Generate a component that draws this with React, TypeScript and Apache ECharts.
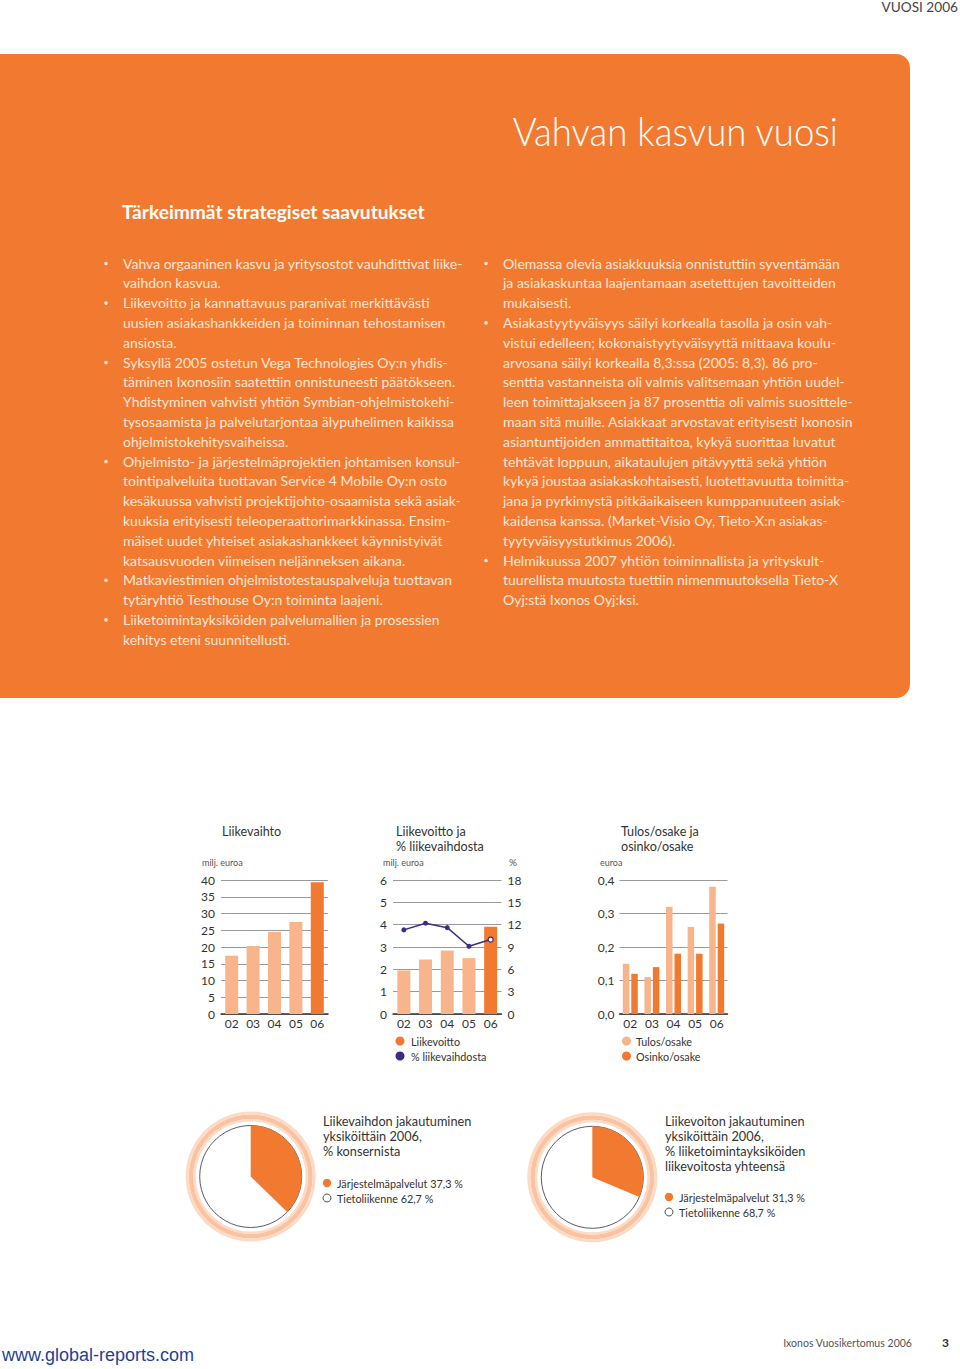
import React, { useEffect, useRef } from "react";
import * as echarts from "echarts";

// ---------- data ----------
const years = ["02", "03", "04", "05", "06"];
const revenue = [17.4, 20.3, 24.5, 27.5, 39.3]; // milj. euroa
const operatingProfit = [1.95, 2.44, 2.84, 2.5, 3.91]; // milj. euroa
const operatingMargin = [11.3, 12.2, 11.6, 9.1, 10.0]; // %
const epsValues = [0.15, 0.11, 0.32, 0.26, 0.38]; // euroa
const dividendValues = [0.12, 0.14, 0.18, 0.18, 0.27]; // euroa
const revenueSplit = [
  { name: "Järjestelmäpalvelut", value: 37.3 },
  { name: "Tietoliikenne", value: 62.7 },
];
const profitSplit = [
  { name: "Järjestelmäpalvelut", value: 31.3 },
  { name: "Tietoliikenne", value: 68.7 },
];

const leftLines: [string, boolean][] = [
  ["Vahva orgaaninen kasvu ja yritysostot vauhdittivat liike-", true],
  ["vaihdon kasvua.", false],
  ["Liikevoitto ja kannattavuus paranivat merkittävästi", true],
  ["uusien asiakashankkeiden ja toiminnan tehostamisen", false],
  ["ansiosta.", false],
  ["Syksyllä 2005 ostetun Vega Technologies Oy:n yhdis-", true],
  ["täminen Ixonosiin saatettiin onnistuneesti päätökseen.", false],
  ["Yhdistyminen vahvisti yhtiön Symbian-ohjelmistokehi-", false],
  ["tysosaamista ja palvelutarjontaa älypuhelimen kaikissa", false],
  ["ohjelmistokehitysvaiheissa.", false],
  ["Ohjelmisto- ja järjestelmäprojektien johtamisen konsul-", true],
  ["tointipalveluita tuottavan Service 4 Mobile Oy:n osto", false],
  ["kesäkuussa vahvisti projektijohto-osaamista sekä asiak-", false],
  ["kuuksia erityisesti teleoperaattorimarkkinassa. Ensim-", false],
  ["mäiset uudet yhteiset asiakashankkeet käynnistyivät", false],
  ["katsausvuoden viimeisen neljänneksen aikana.", false],
  ["Matkaviestimien ohjelmistotestauspalveluja tuottavan", true],
  ["tytäryhtiö Testhouse Oy:n toiminta laajeni.", false],
  ["Liiketoimintayksiköiden palvelumallien ja prosessien", true],
  ["kehitys eteni suunnitellusti.", false],
];

const rightLines: [string, boolean][] = [
  ["Olemassa olevia asiakkuuksia onnistuttiin syventämään", true],
  ["ja asiakaskuntaa laajentamaan asetettujen tavoitteiden", false],
  ["mukaisesti.", false],
  ["Asiakastyytyväisyys säilyi korkealla tasolla ja osin vah-", true],
  ["vistui edelleen; kokonaistyytyväisyyttä mittaava koulu-", false],
  ["arvosana säilyi korkealla 8,3:ssa (2005: 8,3). 86 pro-", false],
  ["senttia vastanneista oli valmis valitsemaan yhtiön uudel-", false],
  ["leen toimittajakseen ja 87 prosenttia oli valmis suosittele-", false],
  ["maan sitä muille. Asiakkaat arvostavat erityisesti Ixonosin", false],
  ["asiantuntijoiden ammattitaitoa, kykyä suorittaa luvatut", false],
  ["tehtävät loppuun, aikataulujen pitävyyttä sekä yhtiön", false],
  ["kykyä joustaa asiakaskohtaisesti, luotettavuutta toimitta-", false],
  ["jana ja pyrkimystä pitkäaikaiseen kumppanuuteen asiak-", false],
  ["kaidensa kanssa. (Market-Visio Oy, Tieto-X:n asiakas-", false],
  ["tyytyväisyystutkimus 2006).", false],
  ["Helmikuussa 2007 yhtiön toiminnallista ja yrityskult-", true],
  ["tuurellista muutosta tuettiin nimenmuutoksella Tieto-X", false],
  ["Oyj:stä Ixonos Oyj:ksi.", false],
];

// ---------- styles ----------
const FONT = "Lato, 'Open Sans', 'Noto Sans', sans-serif";
const ORANGE = "#F27A30";
const PEACH = "#F8B48A";
const PURPLE = "#3F2B80";
const INK = "#333333";
const PANEL_TEXT = "#FDE6D4";

type TOpts = { size?: number; color?: string; weight?: string | number; align?: string; sx?: number; family?: string };
function T(x: number, y: number, text: string, o: TOpts = {}) {
  const font = `${o.weight ?? "normal"} ${o.size ?? 12}px ${o.family ?? FONT}`;
  return {
    type: "text",
    x,
    y,
    scaleX: o.sx ?? 1,
    silent: true,
    z: 10,
    style: {
      text,
      fill: o.color ?? INK,
      font,
      align: o.align ?? "left",
      textAlign: o.align ?? "left",
      verticalAlign: "middle",
      textVerticalAlign: "middle",
    },
  };
}

function bulletBlock(lines: [string, boolean][], bx: number, tx: number, y0: number, dy: number) {
  const els: any[] = [];
  lines.forEach(([t, b], i) => {
    const y = y0 + i * dy;
    if (b) els.push({ type: "circle", shape: { cx: bx, cy: y + 0.5, r: 1.8 }, style: { fill: PANEL_TEXT }, silent: true, z: 10 });
    els.push(T(tx, y, t, { size: 14, color: PANEL_TEXT, sx: 1.0 }));
  });
  return els;
}

function ringSeries(cx: number, cy: number) {
  const rings: [number, number, string][] = [
    [55, 57.5, "#FCDCC7"],
    [57.5, 62, "#F9C2A0"],
    [62, 65, "#FCDAC4"],
  ];
  return rings.map(([r0, r1, c]) => ({
    type: "pie",
    center: [cx, cy],
    radius: [r0, r1],
    silent: true,
    animation: false,
    label: { show: false },
    labelLine: { show: false },
    z: 1,
    data: [{ value: 1, itemStyle: { color: c } }],
  }));
}

function pieSeries(cx: number, cy: number, data: { name: string; value: number }[]) {
  return [
    {
      type: "pie",
      center: [cx, cy],
      radius: [0, 51],
      silent: true,
      label: { show: false },
      labelLine: { show: false },
      z: 2,
      data: [{ value: 1, itemStyle: { color: "#ffffff", borderColor: "#5A5A6E", borderWidth: 1 } }],
    },
    {
      type: "pie",
      center: [cx, cy],
      radius: [0, 51],
      startAngle: 90,
      clockwise: true,
      silent: true,
      label: { show: false },
      labelLine: { show: false },
      z: 3,
      data: data.map((d, i) => ({
        name: d.name,
        value: d.value,
        itemStyle: { color: i === 0 ? ORANGE : "rgba(0,0,0,0)", borderWidth: 0 },
      })),
    },
  ];
}

const axisLabel = (extra: any = {}) => ({ color: INK, fontSize: 12, fontFamily: FONT, ...extra });

function buildOption() {
  const fmtComma = (v: number) => v.toFixed(1).replace(".", ",");
  const graphics: any[] = [
    T(958, 7, "VUOSI 2006", { size: 13, color: "#444", align: "right", sx: 1.05 }),
    { type: "rect", shape: { x: 0, y: 54, width: 910, height: 644, r: [0, 14, 14, 0] }, style: { fill: ORANGE }, silent: true, z: 0 },
    T(838, 130, "Vahvan kasvun vuosi", { size: 40, color: "#ffffff", weight: 300, align: "right", sx: 0.915 }),
    T(122, 212, "Tärkeimmät strategiset saavutukset", { size: 19, color: "#ffffff", weight: "bold", sx: 1.01 }),
    ...bulletBlock(leftLines, 106, 123, 263, 19.8),
    ...bulletBlock(rightLines, 486, 503, 263, 19.8),

    // chart 1 texts
    T(222, 831, "Liikevaihto", { size: 14, sx: 0.9 }),
    T(202, 862, "milj. euroa", { size: 10, color: "#555", sx: 0.9 }),
    // chart 2 texts
    T(396, 831, "Liikevoitto ja", { size: 14, sx: 0.9 }),
    T(396, 846, "% liikevaihdosta", { size: 14, sx: 0.9 }),
    T(383, 862, "milj. euroa", { size: 10, color: "#555", sx: 0.9 }),
    T(509, 862, "%", { size: 10, color: "#555" }),
    { type: "circle", shape: { cx: 400, cy: 1041, r: 4.5 }, style: { fill: ORANGE }, silent: true, z: 10 },
    T(411, 1041, "Liikevoitto", { size: 12, sx: 0.9 }),
    { type: "circle", shape: { cx: 400, cy: 1056, r: 4.5 }, style: { fill: PURPLE }, silent: true, z: 10 },
    T(411, 1056, "% liikevaihdosta", { size: 12, sx: 0.9 }),
    // chart 3 texts
    T(621, 831, "Tulos/osake ja", { size: 14, sx: 0.9 }),
    T(621, 846, "osinko/osake", { size: 14, sx: 0.9 }),
    T(600, 862, "euroa", { size: 10, color: "#555", sx: 0.9 }),
    { type: "circle", shape: { cx: 626.5, cy: 1041, r: 4.5 }, style: { fill: PEACH }, silent: true, z: 10 },
    T(636, 1041, "Tulos/osake", { size: 12, sx: 0.9 }),
    { type: "circle", shape: { cx: 626.5, cy: 1056, r: 4.5 }, style: { fill: ORANGE }, silent: true, z: 10 },
    T(636, 1056, "Osinko/osake", { size: 12, sx: 0.9 }),

    // pie 1 texts
    T(323, 1121, "Liikevaihdon jakautuminen", { size: 14, sx: 0.91 }),
    T(323, 1136, "yksiköittäin 2006,", { size: 14, sx: 0.91 }),
    T(323, 1151, "% konsernista", { size: 14, sx: 0.91 }),
    { type: "circle", shape: { cx: 327, cy: 1183, r: 4.2 }, style: { fill: ORANGE }, silent: true, z: 10 },
    T(337, 1183, `${revenueSplit[0].name} ${fmtComma(revenueSplit[0].value)} %`, { size: 12, sx: 0.9 }),
    { type: "circle", shape: { cx: 327, cy: 1198, r: 4 }, style: { fill: "#fff", stroke: "#555", lineWidth: 1 }, silent: true, z: 10 },
    T(337, 1198, `${revenueSplit[1].name} ${fmtComma(revenueSplit[1].value)} %`, { size: 12, sx: 0.9 }),

    // pie 2 texts
    T(665, 1121, "Liikevoiton jakautuminen", { size: 14, sx: 0.91 }),
    T(665, 1136, "yksiköittäin 2006,", { size: 14, sx: 0.91 }),
    T(665, 1151, "% liiketoimintayksiköiden", { size: 14, sx: 0.91 }),
    T(665, 1166, "liikevoitosta yhteensä", { size: 14, sx: 0.91 }),
    { type: "circle", shape: { cx: 669, cy: 1197, r: 4.2 }, style: { fill: ORANGE }, silent: true, z: 10 },
    T(679, 1197, `${profitSplit[0].name} ${fmtComma(profitSplit[0].value)} %`, { size: 12, sx: 0.9 }),
    { type: "circle", shape: { cx: 669, cy: 1212, r: 4 }, style: { fill: "#fff", stroke: "#555", lineWidth: 1 }, silent: true, z: 10 },
    T(679, 1212, `${profitSplit[1].name} ${fmtComma(profitSplit[1].value)} %`, { size: 12, sx: 0.9 }),

    // footer
    T(2, 1355, "www.global-reports.com", { size: 18, color: "#1F3F97", family: "'Liberation Sans', Arial, sans-serif" }),
    T(912, 1342, "Ixonos Vuosikertomus 2006", { size: 12, color: "#555", align: "right", sx: 0.88 }),
    T(949, 1342, "3", { size: 12, color: "#333", weight: "bold", align: "right" }),
  ];

  const splitLine = { show: true, lineStyle: { color: "#9a9a9a", width: 1 } };
  const xAxisBase = (i: number) => ({
    gridIndex: i,
    type: "category",
    data: years,
    axisTick: { show: false },
    axisLine: { show: true, lineStyle: { color: INK, width: 1.5 } },
    axisLabel: axisLabel({ margin: 3 }),
  });
  const yBase = (i: number, min: number, max: number, interval: number, extra: any = {}) => ({
    gridIndex: i,
    type: "value",
    min,
    max,
    interval,
    axisLine: { show: false },
    axisTick: { show: false },
    splitLine,
    axisLabel: axisLabel({ margin: 6 }),
    ...extra,
  });

  return {
    animation: false,
    backgroundColor: "#ffffff",
    grid: [
      { left: 221, top: 880, width: 107, height: 134 },
      { left: 393, top: 880, width: 108.5, height: 134 },
      { left: 619.5, top: 880, width: 108, height: 134 },
    ],
    xAxis: [xAxisBase(0), xAxisBase(1), xAxisBase(2)],
    yAxis: [
      yBase(0, 0, 40, 5),
      yBase(1, 0, 6, 1),
      yBase(1, 0, 18, 3, { position: "right", splitLine: { show: false } }),
      yBase(2, 0, 0.4, 0.1, { axisLabel: axisLabel({ margin: 5, formatter: (v: number) => fmtComma(v) }) }),
    ],
    graphic: { elements: graphics },
    series: [
      {
        type: "bar",
        xAxisIndex: 0,
        yAxisIndex: 0,
        barWidth: 13,
        silent: true,
        data: revenue.map((v, i) => ({ value: v, itemStyle: { color: i === revenue.length - 1 ? ORANGE : PEACH } })),
      },
      {
        type: "bar",
        xAxisIndex: 1,
        yAxisIndex: 1,
        barWidth: 13,
        silent: true,
        data: operatingProfit.map((v, i) => ({ value: v, itemStyle: { color: i === operatingProfit.length - 1 ? ORANGE : PEACH } })),
      },
      {
        type: "line",
        xAxisIndex: 1,
        yAxisIndex: 2,
        silent: true,
        symbol: "circle",
        symbolSize: 5,
        z: 5,
        lineStyle: { color: PURPLE, width: 1.5 },
        itemStyle: { color: PURPLE },
        data: operatingMargin.map((v, i) => ({
          value: v,
          itemStyle: i === operatingMargin.length - 1 ? { color: "#ffffff", borderColor: PURPLE, borderWidth: 1.2 } : { color: PURPLE },
        })),
      },
      {
        type: "bar",
        xAxisIndex: 2,
        yAxisIndex: 3,
        barWidth: 6.5,
        barGap: "30%",
        silent: true,
        itemStyle: { color: PEACH },
        data: epsValues,
      },
      {
        type: "bar",
        xAxisIndex: 2,
        yAxisIndex: 3,
        barWidth: 6.5,
        barGap: "30%",
        silent: true,
        itemStyle: { color: ORANGE },
        data: dividendValues,
      },
      ...ringSeries(250.7, 1176.5),
      ...pieSeries(250.7, 1176.5, revenueSplit),
      ...ringSeries(592.3, 1177.3),
      ...pieSeries(592.3, 1177.3, profitSplit),
    ],
  };
}

export default function App() {
  const ref = useRef<HTMLDivElement>(null);
  useEffect(() => {
    if (!ref.current) return;
    const chart = echarts.init(ref.current, undefined, { renderer: "svg" });
    chart.setOption(buildOption() as any);
    return () => chart.dispose();
  }, []);
  return (
    <div
      ref={ref}
      style={{ position: "absolute", left: 0, top: 0, width: 960, height: 1369, background: "#ffffff" }}
    />
  );
}
